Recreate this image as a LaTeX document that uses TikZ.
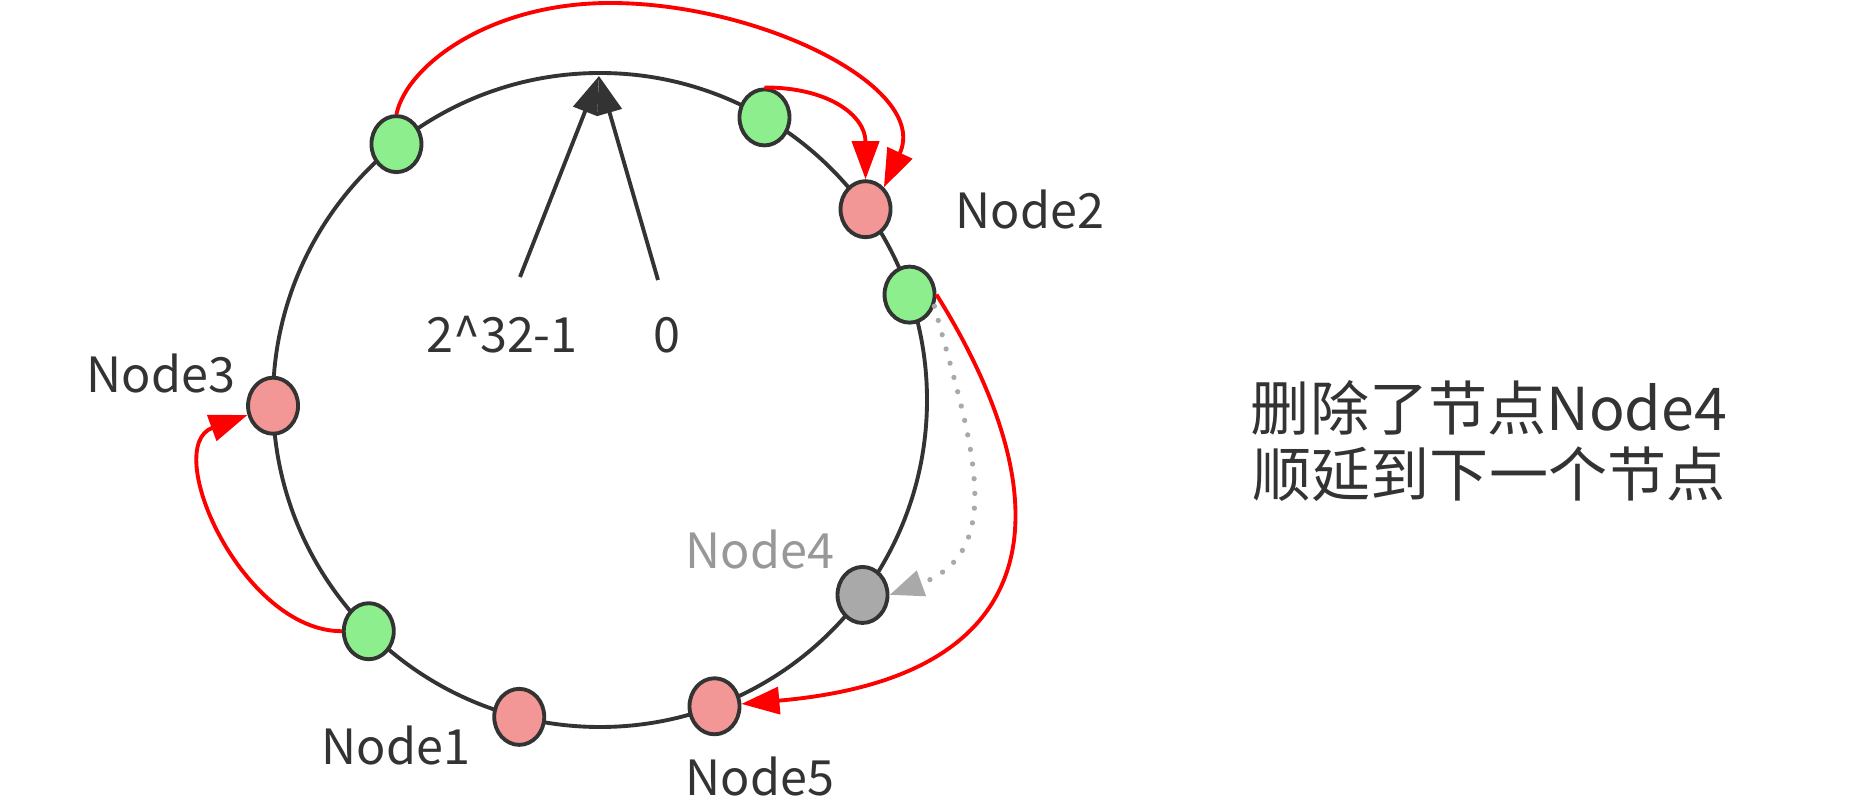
\documentclass[tikz,border=0pt]{standalone}
\usepackage{fontspec}
\setmainfont{Noto Sans CJK SC}
\usetikzlibrary{arrows.meta,shapes.geometric}
\definecolor{hashgreen}{HTML}{8CEE8C}
\definecolor{hashpink}{HTML}{F29696}
\definecolor{hashgray}{HTML}{A9A9A9}
\definecolor{ink}{HTML}{333333}
\begin{document}
\begin{tikzpicture}[x=0.01cm,y=0.01cm,
        slot/.style={ellipse,draw=ink,line width=1.1pt,minimum width=5mm,minimum height=5.6mm,inner sep=0pt},
        vnode/.style={slot,fill=hashgreen},
        rnode/.style={slot,fill=hashpink},
        lbl/.style={text=ink,font=\fontsize{13.8pt}{16pt}\selectfont},
        moveto/.style={draw=red,line width=1.1pt,-{Triangle[length=3.8mm,width=2.7mm]}}]
        \useasboundingbox (0,0) rectangle (1870,-810);
        \draw[ink,line width=1.1pt] (600,-400) circle [radius=327];
        \path (600,-400) ++(128.5:327) node[vnode] (g1) {};
        \path (600,-400) ++(59.8:327) node[vnode] (g2) {};
        \path (600,-400) ++(35.7:327) node[rnode] (n2) {};
        \path (600,-400) ++(18.8:327) node[vnode] (g3) {};
        \path (600,-400) ++(-36.6:327) node[slot,fill=hashgray] (n4) {};
        \path (600,-400) ++(-69.5:327) node[rnode] (n5) {};
        \path (600,-400) ++(255.7:327) node[rnode] (n1) {};
        \path (600,-400) ++(225:327) node[vnode] (g4) {};
        \path (600,-400) ++(181:327) node[rnode] (n3) {};
        \node[lbl] (l2) at (1030,-210) {Node2};
        \node[lbl] (l3) at (161,-374) {Node3};
        \node[lbl,text=hashgray!90!black] (l4) at (760,-550) {Node4};
        \node[lbl] (l1) at (396,-745) {Node1};
        \node[lbl] (l5) at (760,-776) {Node5};
        \node[lbl] (lmax) at (502,-335) {2\textasciicircum32-1};
        \node[lbl] (lzero) at (667,-335) {0};
        \coordinate (apex) at (599,-76);
        \coordinate (fmax) at (520,-277);
        \coordinate (fzero) at (658,-280);
        \draw[ink,line width=1.1pt,-{Triangle[length=3.8mm,width=2.5mm]}] (fmax) -- (apex);
        \draw[ink,line width=1.1pt,-{Triangle[length=3.8mm,width=2.5mm]}] (fzero) -- (apex);
        \coordinate (crest) at (610,-3);
        \draw[moveto] (g1.north) .. controls +(78:50) and +(-120,0) .. (crest) .. controls +(150,0) and +(65:110) .. (n2.50);
        \draw[moveto] (g2.north) to[out=0,in=90,looseness=1.2] (n2.north);
        \draw[moveto] (g3.east) .. controls +(-58:230) and +(5:350) .. (n5);
        \draw[hashgray,line width=1.5pt,dash pattern=on 0pt off 4.2pt,line cap=round,-{Triangle[length=3.4mm,width=2.6mm]}] (g3.-25) .. controls +(-75:130) and +(20:130) .. (n4.east);
        \draw[moveto] (g4.west) .. controls +(180:100) and +(200:120) .. (n3);
        \node[text=ink,font=\fontsize{16.8pt}{18.8pt}\selectfont,align=center] (note) at (1489,-441) {删除了节点Node4\\顺延到下一个节点};
\end{tikzpicture}
\end{document}
